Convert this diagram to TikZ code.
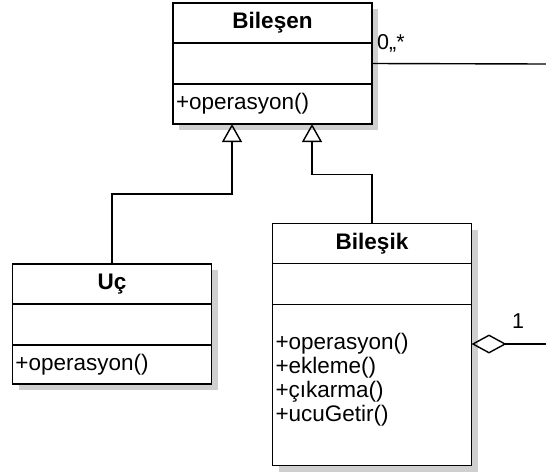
\documentclass[tikz,border=0pt]{standalone}
\usepackage{fontspec}
\setmainfont{Liberation Sans}
\usetikzlibrary{positioning,arrows.meta,backgrounds}
\definecolor{shadowgray}{HTML}{CFCFCF}
\begin{document}
\begin{tikzpicture}[x=1pt, y=1pt, font=\fontsize{22.5}{24}\selectfont,
  cls/.style={draw, line width=1.5pt, fill=white, minimum width=199pt, inner sep=0pt, outer sep=0pt},
  title/.style={cls, minimum height=40pt, font=\fontsize{22.5}{24}\selectfont\bfseries},
  attrs/.style={cls, minimum height=41pt},
  ops/.style={cls, minimum height=40pt, align=left, text width=193pt},
  inherit/.style={line width=1.4pt, -{Triangle[open, width=20pt, length=18pt]}},
  assoc/.style={line width=1.4pt},
  aggr/.style={line width=1.4pt, -{Diamond[open, width=19pt, length=35pt]}},
  mult/.style={inner sep=0pt, font=\fontsize{21.5}{24}\selectfont},
]
\useasboundingbox (0,0) rectangle (546,-472);

% Bilesen
\node[title] (bsTitle) at (272.5,-23) {Bileşen};
\node[attrs, below=0pt of bsTitle] (bsAttrs) {};
\node[ops, below=0pt of bsAttrs] (bsOps) {+operasyon()};

% Uc
\node[title] (ucTitle) at (112,-284) {Uç};
\node[attrs, below=0pt of ucTitle] (ucAttrs) {};
\node[ops, minimum height=39pt, below=0pt of ucAttrs] (ucOps) {+operasyon()};

% Bilesik
\node[title] (bkTitle) at (372,-243.5) {Bileşik};
\node[attrs, below=0pt of bkTitle] (bkAttrs) {};
\node[ops, minimum height=161pt, below=0pt of bkAttrs] (bkOps)
  {+operasyon()\\+ekleme()\\+çıkarma()\\+ucuGetir()\\[-8pt]\mbox{}};

\begin{scope}[on background layer]
  \foreach \t/\o in {bsTitle/bsOps, ucTitle/ucOps, bkTitle/bkOps}
    \fill[shadowgray] ([shift={(6,-6)}]\t.north west) rectangle ([shift={(6,-6)}]\o.south east);
\end{scope}

\draw[inherit] (ucTitle.north) -- ++(0,70) -| ([xshift=-40.5]bsOps.south);
\draw[inherit] (bkTitle.north) -- ++(0,49) -| ([xshift=39.5]bsOps.south);

\coordinate (edgeTop) at (546,-64);
\coordinate (edgeBot) at (546,-344);
\draw[assoc] (bsAttrs.east) -- (edgeTop);
\node[mult, anchor=south west] (multMany) at (377,-52) {0,,*};
\draw[aggr] (edgeBot) -- (bkOps.east |- edgeBot);
\node[mult] (multOne) at (518,-321) {1};
\end{tikzpicture}
\end{document}
